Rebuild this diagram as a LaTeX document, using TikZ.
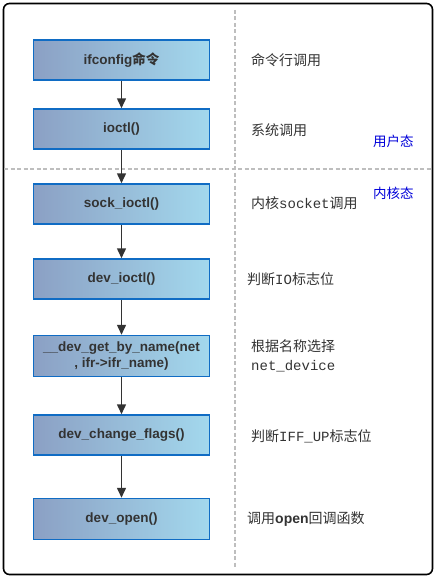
\documentclass[tikz,border=0pt]{standalone}
\usepackage{fontspec}
\setmainfont{Liberation Sans}
\newfontfamily\cjk{Noto Sans CJK SC}
\newfontfamily\monofont{Liberation Mono}
\usetikzlibrary{arrows.meta}
\definecolor{bleft}{RGB}{139,160,196}
\definecolor{bright}{RGB}{163,216,237}
\definecolor{bborder}{RGB}{16,108,196}
\definecolor{txt}{RGB}{51,51,51}
\definecolor{dash}{RGB}{190,190,190}
\tikzset{
  fbox/.style={draw=bborder, line width=1.5pt, left color=bleft, right color=bright,
    minimum width=176pt, minimum height=40pt, inner sep=0pt, text=txt,
    font=\fontsize{13.5}{16}\selectfont\bfseries, align=center},
  lbl/.style={anchor=west, text=txt, font=\fontsize{14}{19.5}\selectfont\cjk, align=left, inner sep=0pt},
  state/.style={anchor=west, text=blue!85!black, font=\fontsize{13.5}{15}\selectfont\cjk, inner sep=0pt},
  arr/.style={draw=txt, line width=1.5pt, -{Triangle[length=10pt,width=9pt]}},
  sep/.style={draw=dash, line width=1.2pt, dash pattern=on 4pt off 2.5pt}
}
\begin{document}
\begin{tikzpicture}[x=1pt,y=-1pt]
\useasboundingbox (0,0) rectangle (436,578);
\draw[line width=1.6pt, rounded corners=6pt] (3.5,3.5) rectangle (432.5,574.5);
\coordinate (vt) at (235,10);
\coordinate (vb) at (235,568);
\coordinate (hl) at (4,169);
\coordinate (hr) at (432,169);
\draw[sep] (vt) -- (vb);
\draw[sep] (hl) -- (hr);

\node[fbox] (b1) at (121.5,60) {ifconfig{\cjk 命令}};
\node[fbox] (b2) at (121.5,129) {ioctl()};
\node[fbox] (b3) at (121.5,204) {sock\_ioctl()};
\node[fbox] (b4) at (121.5,279) {dev\_ioctl()};
\node[fbox, minimum height=41pt] (b5) at (121.5,356) {\_\_dev\_get\_by\_name(net\\, ifr->ifr\_name)};
\node[fbox] (b6) at (121.5,435) {dev\_change\_flags()};
\node[fbox, minimum height=41pt] (b7) at (121.5,519) {dev\_open()};

\draw[arr] (b1) -- (b2);
\draw[arr] (b2) -- (b3);
\draw[arr] (b3) -- (b4);
\draw[arr] (b4) -- (b5);
\draw[arr] (b5) -- (b6);
\draw[arr] (b6) -- (b7);

\node[lbl] (l1) at (251,60) {命令行调用};
\node[lbl] (l2) at (251,130) {系统调用};
\node[state] (s1) at (373,141) {用户态};
\node[state] (s2) at (373,193) {内核态};
\node[lbl] (l3) at (251,203) {内核{\monofont socket}调用};
\node[lbl] (l4) at (247,279) {判断{\monofont IO}标志位};
\node[lbl] (l5) at (251,356) {根据名称选择\\{\monofont net\_device}};
\node[lbl] (l6) at (251,436) {判断{\monofont IFF\_UP}标志位};
\node[lbl] (l7) at (247,519) {调用{\bfseries\fontspec{Liberation Sans}open}回调函数};
\end{tikzpicture}
\end{document}
